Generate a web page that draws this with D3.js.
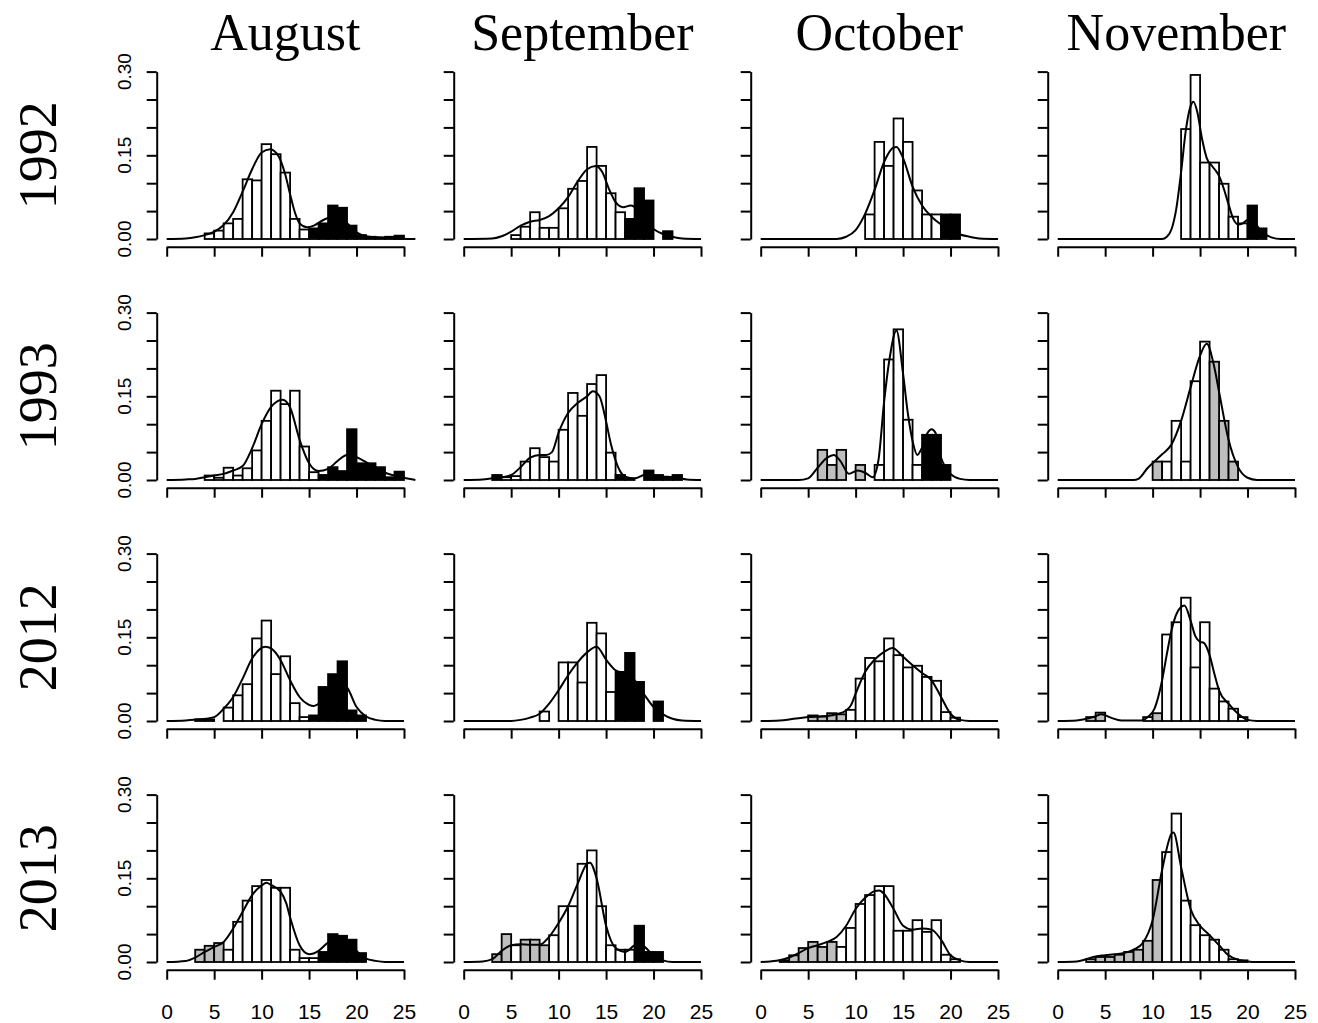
<!DOCTYPE html>
<html>
<head>
<meta charset="utf-8">
<script src="https://d3js.org/d3.v7.min.js"></script>
<style>body{margin:0;background:#fff}</style>
</head>
<body>
<script>
// column / row labels
var months = ["August", "September", "October", "November"];
var years = ["1992", "1993", "2012", "2013"];
var xTicks = [0, 5, 10, 15, 20, 25];
var yTicks = [0, 0.05, 0.10, 0.15, 0.20, 0.25, 0.30];
var yLabels = [0, 0.15, 0.30];

// histogram densities for bins [0,1), [1,2) ... [24,25), one array per month
var hist1992 = [
    [0,0,0,0,0.010, 0.015,0.028,0.036,0.107,0.105, 0.170,0.152,0.119,0.036,0.017, 0.019,0.028,0.060,0.056,0.024, 0.007,0.004,0.003,0.004,0.006],
    [0,0,0,0,0, 0.007,0.022,0.048,0.020,0.020, 0.055,0.090,0.104,0.165,0.131, 0.082,0.048,0.036,0.091,0.069, 0,0.014,0,0,0],
    [0,0,0,0,0, 0,0,0,0,0, 0,0.044,0.174,0.131,0.216, 0.174,0.087,0.044,0.044,0.044, 0.044,0,0,0,0],
    [0,0,0,0,0, 0,0,0,0,0, 0,0,0,0.197,0.294, 0.137,0.137,0.099,0.040,0.028, 0.060,0.019,0,0,0]
];
var hist1993 = [
    [0,0,0,0,0.008, 0.004,0.022,0.008,0.021,0.053, 0.106,0.160,0.136,0.160,0.060, 0.014,0.009,0.023,0.016,0.091, 0.030,0.030,0.023,0.005,0.015],
    [0,0,0,0.009,0.005, 0.007,0.033,0.057,0.041,0.033, 0.090,0.156,0.115,0.172,0.188, 0.049,0.009,0.002,0,0.017, 0.009,0.004,0.009,0,0],
    [0,0,0,0,0, 0,0.054,0.027,0.054,0, 0.027,0,0.027,0.216,0.270, 0.108,0.027,0.081,0.081,0.027, 0,0,0,0,0],
    [0,0,0,0,0, 0,0,0,0,0, 0.033,0.033,0.106,0.033,0.177, 0.248,0.212,0.106,0.033,0, 0,0,0,0,0]
];
var hist2012 = [
    [0,0,0,0.003,0.003, 0,0.024,0.046,0.066,0.148, 0.180,0.084,0.116,0.032,0.007, 0.010,0.061,0.084,0.107,0.019, 0.010,0,0,0,0],
    [0,0,0,0,0, 0,0,0,0.017,0, 0.105,0.105,0.069,0.176,0.157, 0.052,0.088,0.122,0.070,0, 0.035,0,0,0,0],
    [0,0,0,0,0, 0.010,0.008,0.014,0.012,0.020, 0.076,0.113,0.107,0.148,0.118, 0.096,0.099,0.079,0.072,0.016, 0.006,0,0,0,0],
    [0,0,0,0.007,0.015, 0,0,0,0,0.007, 0.014,0.155,0.177,0.221,0.096, 0.177,0.058,0.035,0.022,0.007, 0,0,0,0,0]
];
var hist2013 = [
    [0,0,0,0.022,0.029, 0.034,0.022,0.072,0.110,0.136, 0.147,0.133,0.133,0.022,0.007, 0.007,0.018,0.050,0.047,0.040, 0.016,0,0,0,0],
    [0,0,0,0.014,0.050, 0.030,0.040,0.040,0.030,0.048, 0.100,0.100,0.176,0.200,0.100, 0.030,0.022,0.022,0.065,0.018, 0.018,0,0,0,0],
    [0,0,0.003,0.012,0.025, 0.036,0.027,0.036,0.027,0.061, 0.104,0.120,0.136,0.136,0.056, 0.056,0.075,0.054,0.075,0.013, 0.005,0,0,0,0],
    [0,0,0,0.005,0.009, 0.009,0.013,0.018,0.022,0.038, 0.147,0.197,0.266,0.110,0.066, 0.048,0.040,0.022,0.005,0.003, 0,0,0,0,0]
];

// bar fill per bin: w = white, k = black, g = grey
var fill1992 = ["wwwww wwwww wwwww kkkkk kkkkk", "wwwww wwwww wwwww wwkkk kkkkk", "wwwww wwwww wwwww wwwwk kkkkk", "wwwww wwwww wwwww wwwww kkkkk"];
var fill1993 = ["wwwww wwwww wwwww wkkkk kkkkk", "wwwkw wwwww wwwww wkkkk kkkkk", "wwwww wgggw gwwww wwkkk wwwww", "wwwww wwwww gwwww wgggw wwwww"];
var fill2012 = ["wwwww wwwww wwwww kkkkk kkkkk", "wwwww wwwww wwwww wkkkk kkkkk", "wwwww ggggw wwwww wwwww wwwww", "wwwgg wwwww gwwww wwwww wwwww"];
var fill2013 = ["wwwgg gwwww wwwww wkkkk kkkkk", "wwwgg wgggw wwwww wwwkk kkkkk", "wwwgg gggww wwwww wwwww wwwww", "wwwgg ggggg gwwww wwwww wwwww"];

// density curves [length, density]
var dens1992 = [
    [[0,0],[2,0.001],[3,0.003],[4,0.007],[5,0.013],[6,0.025],[7,0.048],[8,0.085],[9,0.125],[10,0.155],[10.9,0.161],[11.8,0.148],[12.5,0.115],[13,0.08],[13.5,0.048],[14,0.028],[14.8,0.021],[15.5,0.024],[16.5,0.034],[17.5,0.04],[18.3,0.037],[19,0.028],[20,0.012],[21,0.005],[22,0.003],[23,0.002],[24,0.001],[26.2,0]],
    [[0,0],[3,0.001],[4,0.005],[5,0.013],[6,0.024],[7,0.031],[8,0.034],[9,0.041],[10,0.055],[11,0.075],[12,0.103],[13,0.125],[13.9,0.131],[14.6,0.12],[15.3,0.09],[16,0.066],[16.8,0.057],[17.6,0.06],[18.3,0.053],[19,0.036],[20,0.018],[21,0.009],[22,0.004],[23,0.001],[25,0]],
    [[0,0],[8,0],[9,0.004],[10,0.016],[11,0.045],[12,0.088],[13,0.138],[14,0.164],[14.3,0.165],[15,0.145],[16,0.094],[17,0.06],[18,0.04],[19,0.026],[20,0.016],[21,0.008],[22,0.004],[23,0.001],[25,0]],
    [[0,0],[11,0],[11.5,0.004],[12,0.018],[12.5,0.055],[13,0.12],[13.5,0.195],[14,0.238],[14.3,0.246],[14.7,0.228],[15.2,0.18],[15.7,0.145],[16.3,0.13],[17,0.113],[17.5,0.09],[18,0.062],[18.5,0.036],[19,0.026],[19.5,0.028],[20.1,0.035],[20.7,0.03],[21.5,0.013],[22.5,0.003],[23.5,0],[25,0]]
];
var dens1993 = [
    [[0,0],[2,0.001],[3,0.002],[4,0.005],[5,0.008],[6,0.011],[7,0.017],[8,0.025],[9,0.057],[10,0.1],[11,0.131],[12.2,0.144],[13,0.13],[14,0.072],[15,0.03],[16,0.016],[17,0.02],[18,0.034],[19,0.045],[20,0.041],[21,0.032],[22,0.023],[23,0.013],[24,0.008],[25,0.004],[26.2,0]],
    [[0,0],[2,0.001],[3,0.003],[4,0.005],[5,0.009],[6,0.023],[7,0.04],[8,0.045],[8.7,0.045],[9.3,0.05],[10,0.085],[11,0.12],[12,0.138],[13,0.15],[13.6,0.159],[14.3,0.15],[15,0.105],[15.5,0.065],[16,0.035],[16.5,0.015],[17,0.006],[18,0.003],[19,0.009],[19.5,0.01],[20.5,0.006],[21.5,0.006],[22.5,0.004],[23.5,0.001],[25,0]],
    [[0,0],[4,0],[5,0.003],[6,0.022],[7,0.04],[7.7,0.045],[8.4,0.034],[9.3,0.011],[10.2,0.017],[11,0.013],[11.8,0.005],[12.4,0.035],[13,0.14],[13.6,0.22],[14.3,0.268],[15,0.19],[15.5,0.12],[16,0.07],[16.5,0.045],[17,0.058],[17.6,0.085],[18,0.091],[18.4,0.085],[19,0.04],[19.5,0.022],[20,0.011],[21,0.002],[22,0],[25,0]],
    [[0,0],[8,0],[8.5,0.002],[9.5,0.022],[10.5,0.038],[11,0.046],[12,0.064],[13,0.106],[14,0.166],[15,0.223],[15.7,0.244],[16.5,0.202],[17,0.158],[18,0.072],[19,0.023],[20,0.004],[21,0],[25,0]]
];
var dens2012 = [
    [[0,0],[2,0.001],[3.5,0.003],[5,0.007],[6,0.022],[7,0.043],[8,0.076],[9,0.112],[10.4,0.133],[11,0.13],[12,0.109],[13,0.073],[14,0.043],[15,0.029],[15.5,0.027],[16,0.031],[17,0.052],[18,0.066],[18.5,0.066],[19,0.06],[20,0.025],[21,0.008],[22,0.002],[23,0],[25,0]],
    [[0,0],[5,0],[6,0.002],[7,0.006],[8,0.013],[9,0.031],[10,0.055],[11,0.082],[12,0.105],[13,0.123],[14,0.133],[15,0.11],[16,0.091],[17,0.085],[18,0.073],[19,0.048],[20,0.025],[21,0.012],[22,0.004],[23,0.001],[25,0]],
    [[0,0],[2,0.001],[3.5,0.004],[5,0.007],[7,0.009],[8,0.012],[9,0.019],[9.5,0.028],[10,0.049],[11,0.088],[12,0.11],[13,0.124],[13.9,0.131],[15,0.115],[16,0.1],[17,0.086],[18,0.073],[19,0.043],[20,0.013],[21,0.002],[22,0],[25,0]],
    [[0,0],[2,0.001],[2.8,0.003],[3.9,0.008],[4.6,0.012],[5.6,0.006],[6.7,0.001],[8.8,0.001],[9.5,0.007],[10.2,0.022],[11,0.073],[11.5,0.12],[12,0.163],[12.6,0.195],[13.35,0.207],[14,0.18],[14.5,0.152],[15,0.142],[15.4,0.14],[16,0.118],[16.5,0.085],[17,0.055],[18,0.031],[19,0.013],[20,0.002],[21,0],[25,0]]
];
var dens2013 = [
    [[0,0],[2,0.002],[3,0.008],[4,0.018],[5,0.027],[6,0.036],[7,0.06],[8,0.09],[9,0.12],[10,0.137],[10.5,0.142],[11,0.138],[12,0.126],[12.6,0.105],[13,0.08],[14,0.03],[15,0.014],[16,0.02],[17,0.035],[18,0.043],[19,0.038],[20,0.02],[21,0.006],[22,0.002],[23,0],[25,0]],
    [[0,0],[2,0.001],[3,0.005],[4,0.02],[5,0.03],[6,0.032],[7,0.031],[8,0.031],[9,0.045],[10,0.07],[11,0.1],[12,0.14],[13,0.176],[13.3,0.178],[14,0.15],[15,0.065],[16,0.025],[17,0.018],[18,0.03],[18.5,0.033],[19,0.028],[20,0.012],[21,0.003],[22,0],[25,0]],
    [[0,0],[1,0.001],[2,0.003],[3,0.008],[4,0.016],[5,0.025],[6,0.03],[7,0.036],[8,0.045],[9,0.065],[10,0.095],[11,0.115],[12,0.127],[12.5,0.128],[13,0.122],[14,0.095],[15,0.065],[16,0.058],[17,0.06],[18,0.058],[19,0.04],[20,0.012],[21,0.003],[22,0],[25,0]],
    [[0,0],[2,0.001],[3,0.005],[4,0.01],[5,0.012],[6,0.014],[7,0.016],[8,0.022],[9,0.035],[10,0.075],[11,0.165],[12,0.23],[12.2,0.232],[13,0.17],[14,0.095],[15,0.065],[16,0.048],[17,0.03],[18,0.012],[19,0.004],[20,0.001],[21,0],[25,0]]
];

var hists = [hist1992, hist1993, hist2012, hist2013];
var fills = [fill1992, fill1993, fill2012, fill2013];
var denses = [dens1992, dens1993, dens2012, dens2013];
var fillColor = { w: "#ffffff", k: "#000000", g: "#bebebe" };

// layout
var width = 1318, height = 1023;
var left0 = 166.7, colStep = 297;
var base0 = 239, rowStep = 241;
var plotW = 237.3, plotH = 167.4;

var svg = d3.select("body").append("svg")
    .attr("width", width)
    .attr("height", height)
    .style("background", "#fff");

var x = d3.scaleLinear().domain([0, 25]).range([0, plotW]);
var y = d3.scaleLinear().domain([0, 0.30]).range([0, -plotH]);

var line = d3.line()
    .x(d => x(d[0]))
    .y(d => y(d[1]))
    .curve(d3.curveMonotoneX);

years.forEach(function(yr, r) {
    months.forEach(function(m, c) {
        var g = svg.append("g")
            .attr("transform", "translate(" + (left0 + c * colStep) + "," + (base0 + r * rowStep) + ")");

        var heights = hists[r][c];
        var codes = fills[r][c].replace(/ /g, "").split("");
        var bins = heights.map((h, i) => ({ x0: i, x1: i + 1, h: h, f: codes[i] })).filter(d => d.h > 0);

        g.selectAll("rect")
            .data(bins)
            .join("rect")
            .attr("x", d => x(d.x0))
            .attr("y", d => y(d.h))
            .attr("width", d => x(d.x1) - x(d.x0))
            .attr("height", d => y(0) - y(d.h))
            .attr("fill", d => fillColor[d.f])
            .attr("stroke", "#000")
            .attr("stroke-width", 1.8);

        g.append("path")
            .datum(denses[r][c])
            .attr("d", line)
            .attr("fill", "none")
            .attr("stroke", "#000")
            .attr("stroke-width", 2);

        // y axis
        var ya = g.append("g")
            .attr("transform", "translate(-10,0)")
            .call(d3.axisLeft(y).tickValues(yTicks).tickSize(10).tickSizeOuter(0).tickFormat(""));
        ya.selectAll("path, line").attr("stroke", "#000").attr("stroke-width", 2);

        if (c === 0) {
            g.selectAll(".ylab")
                .data(yLabels)
                .join("text")
                .attr("class", "ylab")
                .attr("transform", d => "translate(-36," + y(d) + ") rotate(-90)")
                .attr("text-anchor", "middle")
                .style("font-family", "'Liberation Sans', Arial, sans-serif")
                .style("font-size", "19px")
                .text(d => d3.format(".2f")(d));
        }

        // x axis
        var xa = g.append("g")
            .attr("transform", "translate(0,7.7)")
            .call(d3.axisBottom(x).tickValues(xTicks).tickSize(10).tickSizeOuter(0).tickPadding(39)
                .tickFormat(r === years.length - 1 ? d3.format("d") : ""));
        xa.selectAll("path, line").attr("stroke", "#000").attr("stroke-width", 2);
        xa.selectAll("text")
            .attr("fill", "#000")
            .attr("dy", "0")
            .style("font-family", "'Liberation Sans', Arial, sans-serif")
            .style("font-size", "21px");

        if (r === 0) {
            g.append("text")
                .attr("x", x(12.5))
                .attr("y", 50 - base0)
                .attr("text-anchor", "middle")
                .style("font-family", "'Liberation Serif', 'Times New Roman', serif")
                .style("font-size", "52px")
                .text(m);
        }
    });

    svg.append("text")
        .attr("transform", "translate(56," + (base0 + r * rowStep - plotH / 2) + ") rotate(-90)")
        .attr("text-anchor", "middle")
        .style("font-family", "'Liberation Serif', 'Times New Roman', serif")
        .style("font-size", "54px")
        .text(yr);
});
</script>
</body>
</html>
